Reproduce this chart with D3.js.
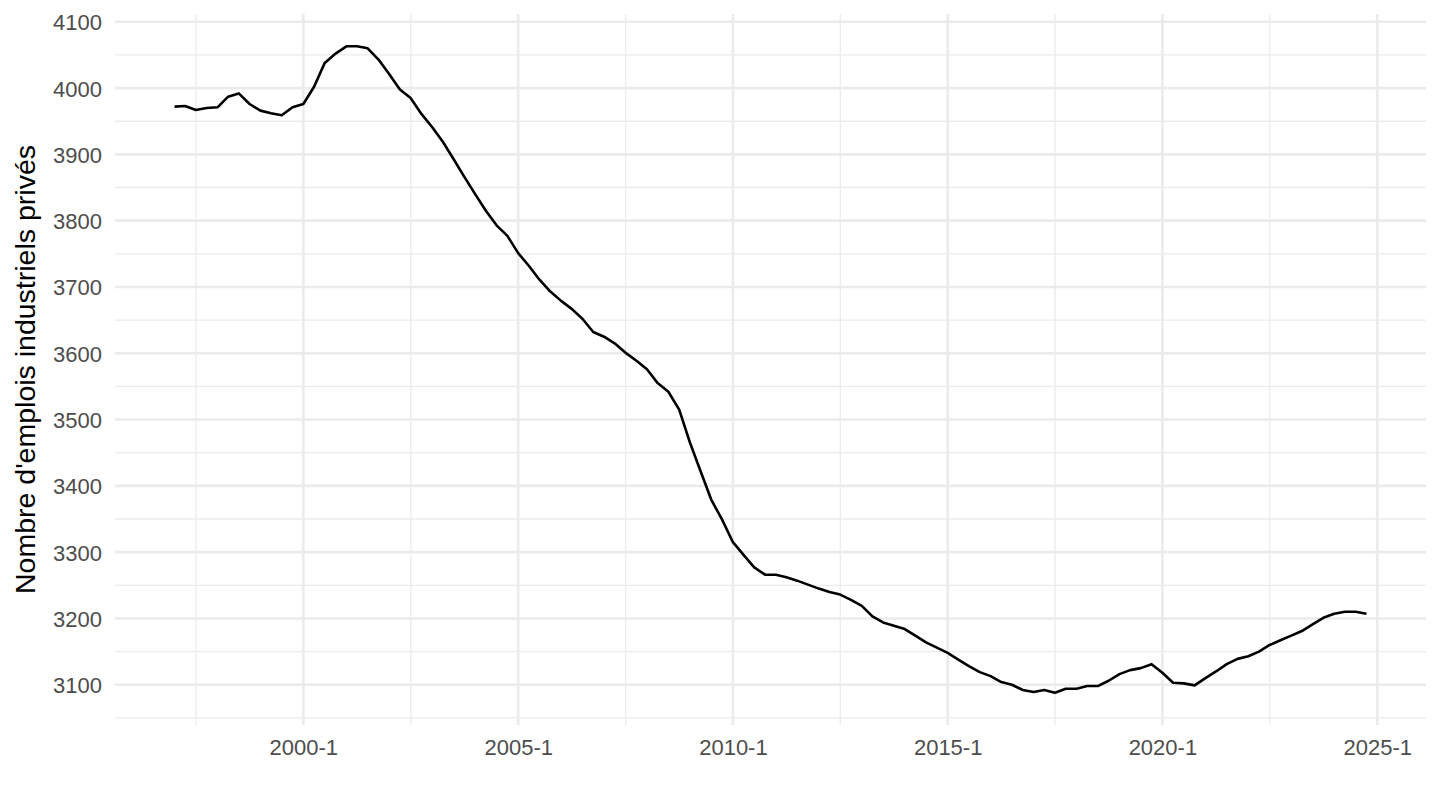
<!DOCTYPE html>
<html>
<head>
<meta charset="utf-8">
<script src="https://cdn.jsdelivr.net/npm/d3@7"></script>
<style>
  body { margin: 0; background: #fff; }
  text { font-family: "Liberation Sans", Arial, sans-serif; }
</style>
</head>
<body>
<div id="chartContainer"></div>
<script>
// quarterly series, first point = 1997 Q1
const startYear = 1997;
const emplois = [
  3972, 3973, 3967, 3970, 3971, 3987, 3992, 3976, 3966, 3962, 3959, 3971,
  3976, 4002, 4038, 4052, 4063, 4063, 4060, 4043, 4021, 3998, 3985, 3961,
  3941, 3919, 3893, 3866, 3840, 3815, 3793, 3777, 3751, 3732, 3711, 3693,
  3679, 3667, 3652, 3632, 3625, 3615, 3601, 3589, 3576, 3555, 3542, 3515,
  3465, 3422, 3379, 3349, 3315, 3296, 3277, 3266, 3266, 3262, 3257, 3251,
  3245, 3240, 3236, 3228, 3219, 3203, 3194, 3189, 3184, 3174, 3164, 3156,
  3148, 3138, 3128, 3119, 3113, 3104, 3100, 3092, 3089, 3092, 3088, 3094,
  3094, 3098, 3098, 3106, 3116, 3122, 3125, 3131, 3118, 3103, 3102, 3099,
  3110, 3120, 3131, 3139, 3143, 3150, 3160, 3167, 3174, 3181, 3191, 3201,
  3207, 3210, 3210, 3207
];
const xTickYears = [2000, 2005, 2010, 2015, 2020, 2025];
const xTickLabels = ["2000-1", "2005-1", "2010-1", "2015-1", "2020-1", "2025-1"];
const yTicks = [3100, 3200, 3300, 3400, 3500, 3600, 3700, 3800, 3900, 4000, 4100];
const yTitle = "Nombre d'emplois industriels privés";

const data = emplois.map((v, i) => ({
  date: new Date(startYear + Math.floor(i / 4), (i % 4) * 3, 1),
  value: v
}));

const svgWidth = 1440;
const svgHeight = 810;
const margin = { top: 14, right: 14, bottom: 85, left: 115 };

const svg = d3.select("#chartContainer")
  .append("svg")
  .attr("width", svgWidth)
  .attr("height", svgHeight);

// ggplot style 5% expansion
const xExt = d3.extent(data, d => d.date);
const xPad = (xExt[1] - xExt[0]) * 0.05;
const xScale = d3.scaleTime()
  .domain([new Date(+xExt[0] - xPad), new Date(+xExt[1] + xPad)])
  .range([margin.left, svgWidth - margin.right]);

const yExt = d3.extent(data, d => d.value);
const yPad = (yExt[1] - yExt[0]) * 0.05;
const yScale = d3.scaleLinear()
  .domain([yExt[0] - yPad, yExt[1] + yPad])
  .range([svgHeight - margin.bottom, margin.top]);

const x0 = margin.left, x1 = svgWidth - margin.right;
const y0 = svgHeight - margin.bottom, y1 = margin.top;

const xMajor = xTickYears.map(y => new Date(y, 0, 1));
const xMinor = [];
for (let k = 0; k < xMajor.length; k++) {
  const prev = k == 0 ? new Date(xTickYears[0] - 5, 0, 1) : xMajor[k - 1];
  xMinor.push(new Date((+prev + +xMajor[k]) / 2));
}
const yMinor = yTicks.map(t => t - 50).concat([yTicks[yTicks.length - 1] + 50])
  .filter(t => t >= yScale.domain()[0] && t <= yScale.domain()[1]);

const grid = svg.append("g").attr("class", "grid");

grid.selectAll(".ymin")
  .data(yMinor)
  .enter()
  .append("line")
  .attr("x1", x0).attr("x2", x1)
  .attr("y1", d => yScale(d)).attr("y2", d => yScale(d))
  .attr("stroke", "#ebebeb")
  .attr("stroke-width", 1.3);

grid.selectAll(".xmin")
  .data(xMinor.filter(d => xScale(d) >= x0))
  .enter()
  .append("line")
  .attr("x1", d => xScale(d)).attr("x2", d => xScale(d))
  .attr("y1", y0).attr("y2", y1)
  .attr("stroke", "#ebebeb")
  .attr("stroke-width", 1.3);

grid.selectAll(".ymaj")
  .data(yTicks)
  .enter()
  .append("line")
  .attr("x1", x0).attr("x2", x1)
  .attr("y1", d => yScale(d)).attr("y2", d => yScale(d))
  .attr("stroke", "#ebebeb")
  .attr("stroke-width", 2.6);

grid.selectAll(".xmaj")
  .data(xMajor)
  .enter()
  .append("line")
  .attr("x1", d => xScale(d)).attr("x2", d => xScale(d))
  .attr("y1", y0).attr("y2", y1)
  .attr("stroke", "#ebebeb")
  .attr("stroke-width", 2.6);

// axes, no domain line, no tick marks
const xAxis = d3.axisBottom(xScale)
  .tickValues(xMajor)
  .tickFormat((d, i) => xTickLabels[i])
  .tickSize(0)
  .tickPadding(0);

svg.append("g")
  .attr("transform", `translate(0, ${y0})`)
  .call(xAxis)
  .call(g => g.select(".domain").remove())
  .selectAll("text")
  .attr("y", 30)
  .attr("dy", 0)
  .attr("fill", "#4d4d4d")
  .style("font-size", "22px")
  .style("font-family", "Liberation Sans, Arial, sans-serif");

const yAxis = d3.axisLeft(yScale)
  .tickValues(yTicks)
  .tickFormat(d3.format("d"))
  .tickSize(0)
  .tickPadding(13);

svg.append("g")
  .attr("transform", `translate(${x0}, 0)`)
  .call(yAxis)
  .call(g => g.select(".domain").remove())
  .selectAll("text")
  .attr("dy", "0.36em")
  .attr("fill", "#4d4d4d")
  .style("font-size", "22px")
  .style("font-family", "Liberation Sans, Arial, sans-serif");

svg.append("text")
  .attr("transform", `translate(35, ${(y0 + y1) / 2}) rotate(-90)`)
  .attr("text-anchor", "middle")
  .attr("fill", "#000")
  .style("font-size", "28.5px")
  .text(yTitle);

const line = d3.line()
  .x(d => xScale(d.date))
  .y(d => yScale(d.value));

svg.append("path")
  .datum(data)
  .attr("fill", "none")
  .attr("stroke", "#000")
  .attr("stroke-width", 2.6)
  .attr("stroke-linejoin", "round")
  .attr("d", line);
</script>
</body>
</html>
